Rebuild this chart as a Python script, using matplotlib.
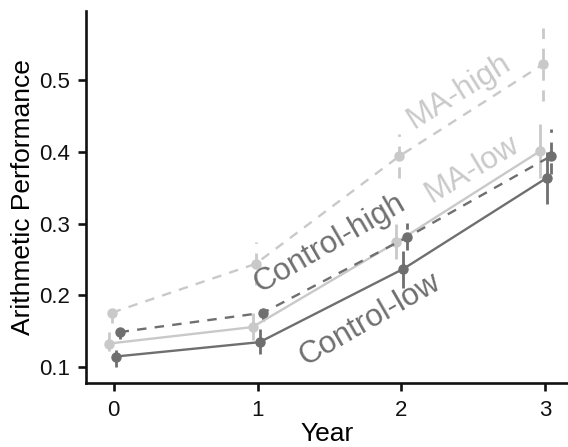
import matplotlib
matplotlib.use('Agg')
import matplotlib.pyplot as plt
import numpy as np

plt.rcParams['font.family'] = ['Liberation Sans', 'DejaVu Sans']

# data
years = [0, 1, 2, 3]
groups = ['MA-high', 'MA-low', 'Control-high', 'Control-low']

ma_high = [0.176, 0.244, 0.394, 0.522]
ma_high_lo = [0.161, 0.215, 0.364, 0.471]
ma_high_hi = [0.190, 0.274, 0.425, 0.572]

ma_low = [0.133, 0.156, 0.274, 0.401]
ma_low_lo = [0.122, 0.138, 0.251, 0.364]
ma_low_hi = [0.149, 0.175, 0.300, 0.439]

ctrl_high = [0.149, 0.176, 0.281, 0.394]
ctrl_high_lo = [0.140, 0.165, 0.263, 0.369]
ctrl_high_hi = [0.163, 0.190, 0.301, 0.432]

ctrl_low = [0.115, 0.135, 0.237, 0.364]
ctrl_low_lo = [0.100, 0.119, 0.210, 0.328]
ctrl_low_hi = [0.124, 0.154, 0.262, 0.400]

light = '#c9c9c9'
dark = '#6f6f6f'

# group: (means, lo, hi, colour, linestyle, dodge)
series = [
    (ma_high, ma_high_lo, ma_high_hi, light, (0, (4, 3.5)), -0.014),
    (ma_low, ma_low_lo, ma_low_hi, light, '-', -0.035),
    (ctrl_high, ctrl_high_lo, ctrl_high_hi, dark, (0, (4, 3.5)), 0.04),
    (ctrl_low, ctrl_low_lo, ctrl_low_hi, dark, '-', 0.014),
]

fig = plt.figure(figsize=(5.68, 4.47), dpi=100)
ax = fig.add_axes([0.151, 0.143, 0.849, 0.832])

for means, lo, hi, col, ls, dx in series:
    x = np.array(years) + dx
    m = np.array(means)
    ax.vlines(x, lo, hi, colors=col, linestyles=ls, linewidth=2.0, zorder=2)
    ax.plot(x, m, color=col, linestyle=ls, linewidth=1.7, marker='o',
            markersize=6.5, zorder=3)

# in-plot labels
ax.text(2.40, 0.484, 'MA-high', color=light, fontsize=22.5, rotation=32,
        ha='center', va='center', rotation_mode='anchor')
ax.text(2.49, 0.376, 'MA-low', color=light, fontsize=22.5, rotation=31,
        ha='center', va='center', rotation_mode='anchor')
ax.text(1.50, 0.272, 'Control-high', color=dark, fontsize=22.5, rotation=30,
        ha='center', va='center', rotation_mode='anchor')
ax.text(1.78, 0.166, 'Control-low', color=dark, fontsize=22.5, rotation=30,
        ha='center', va='center', rotation_mode='anchor')

ax.set_xlim(-0.195, 3.16)
ax.set_ylim(0.078, 0.596)
ax.set_xticks(years)
ax.set_yticks([0.1, 0.2, 0.3, 0.4, 0.5])
ax.set_yticklabels(['0.1', '0.2', '0.3', '0.4', '0.5'])

for side in ['top', 'right']:
    ax.spines[side].set_visible(False)
for side in ['left', 'bottom']:
    ax.spines[side].set_linewidth(1.9)
    ax.spines[side].set_color('#111111')

ax.tick_params(axis='both', length=6, width=1.9, labelsize=16, colors='#111111')
ax.tick_params(axis='x', pad=6)
ax.tick_params(axis='y', pad=5)

ax.set_xlabel('Year', fontsize=19, labelpad=1)
ax.set_ylabel('Arithmetic Performance', fontsize=19, labelpad=3)

fig.savefig('out.png', dpi=100)
